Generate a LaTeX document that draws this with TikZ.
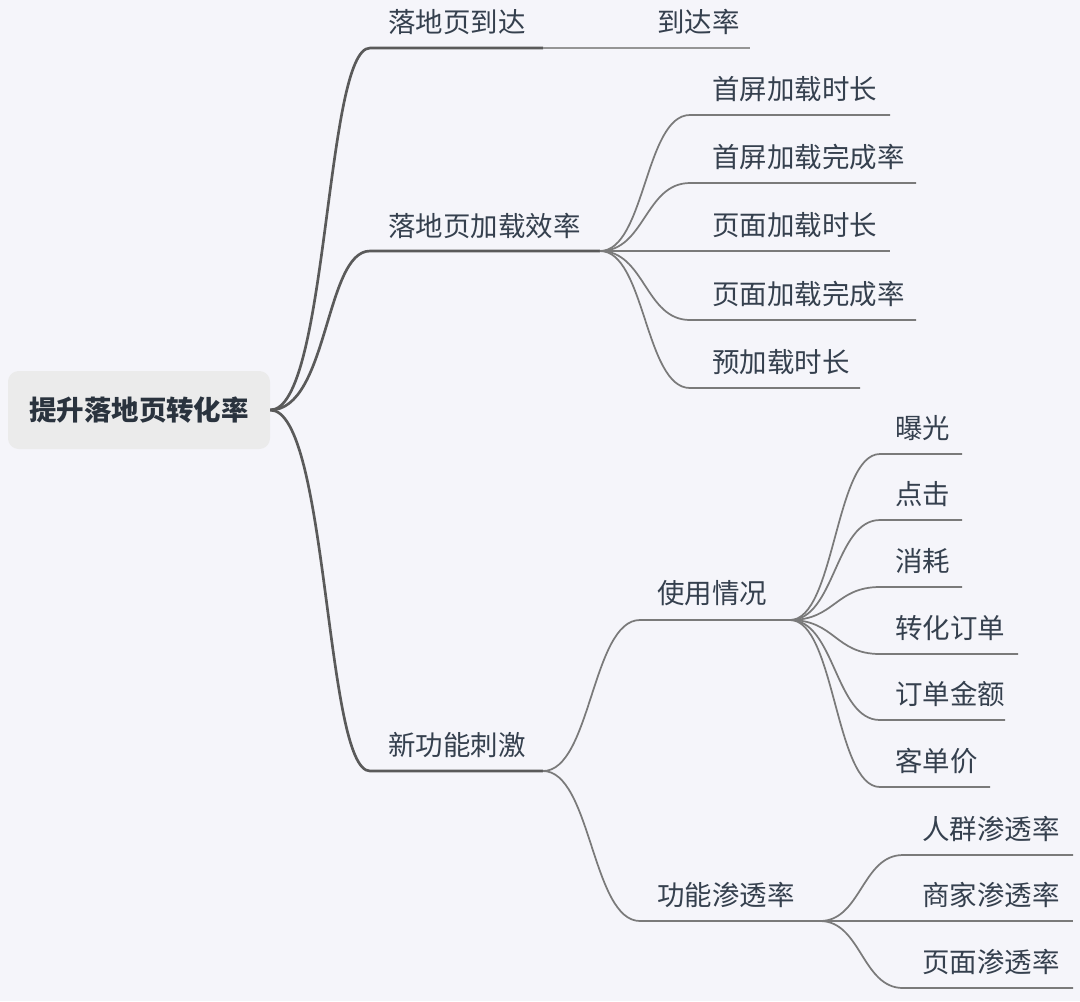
\documentclass[tikz,border=0pt]{standalone}
\usepackage{fontspec}
\setmainfont{Noto Sans CJK SC}
\definecolor{bgc}{HTML}{F5F5FA}
\definecolor{rootfill}{HTML}{EBEBEB}
\definecolor{txt}{HTML}{35404E}
\definecolor{mainline}{HTML}{5A5A5A}
\definecolor{subline}{HTML}{7A7A7A}
\tikzset{
  lbl/.style={anchor=west, inner sep=0pt, text=txt, font=\fontsize{20.6pt}{22pt}\selectfont},
  rootbox/.style={fill=rootfill, rounded corners=8pt, minimum width=196.5pt, minimum height=58.5pt, inner sep=0pt, text=txt!80!black, font=\fontsize{20.6pt}{22pt}\selectfont\bfseries},
  mainln/.style={draw=mainline, line width=2pt},
  subln/.style={draw=subline, line width=1.3pt},
  lightln/.style={draw=subline!80, line width=1.3pt}
}
\begin{document}
\begin{tikzpicture}[x=0.75pt,y=-0.75pt]
\fill[bgc] (0,0) rectangle (1080,1001);
\useasboundingbox (0,0) rectangle (1080,1001);

% root
\node[rootbox] (root) at (139,410) {提升落地页转化率};

% level 1
\coordinate (A-l) at (370,48);  \coordinate (A-r) at (543,48);
\node[lbl] (A) at (388,22) {落地页到达};
\coordinate (B-l) at (370,251); \coordinate (B-r) at (600,251);
\node[lbl] (B) at (388,226) {落地页加载效率};
\coordinate (C-l) at (370,771); \coordinate (C-r) at (543,771);
\node[lbl] (C) at (388,745) {新功能刺激};

\draw[mainln] (root.east) .. controls +(58,0) and +(-45,0) .. (A-l) -- (A-r);
\draw[mainln] (root.east) .. controls +(58,0) and +(-45,0) .. (B-l) -- (B-r);
\draw[mainln] (root.east) .. controls +(58,0) and +(-45,0) .. (C-l) -- (C-r);

% A child
\coordinate (A1-l) at (643,48); \coordinate (A1-r) at (750,48);
\node[lbl] (A1) at (657,22) {到达率};
\draw[lightln] (A-r) -- (A1-l) -- (A1-r);

% B children
\foreach \n/\y/\e/\t in {1/115/890/首屏加载时长, 2/183/916/首屏加载完成率, 3/251/890/页面加载时长, 4/320/916/页面加载完成率, 5/388/860/预加载时长}{
  \coordinate (B\n-l) at (690,\y); \coordinate (B\n-r) at (\e,\y);
  \node[lbl] (B\n) at (712,\y-26) {\t};
  \draw[subln] (B-r) .. controls +(45,0) and +(-45,0) .. (B\n-l) -- (B\n-r);
}

% C children
\coordinate (C1-l) at (640,620); \coordinate (C1-r) at (790,620);
\node[lbl] (C1) at (657,593) {使用情况};
\coordinate (C2-l) at (640,921); \coordinate (C2-r) at (820,921);
\node[lbl] (C2) at (657,895) {功能渗透率};
\draw[subln] (C-r) .. controls +(48,0) and +(-48,0) .. (C1-l) -- (C1-r);
\draw[subln] (C-r) .. controls +(48,0) and +(-48,0) .. (C2-l) -- (C2-r);

% C1 children
\foreach \n/\y/\e/\t in {1/454/962/曝光, 2/520/962/点击, 3/587/962/消耗, 4/654/1018/转化订单, 5/720/1005/订单金额, 6/787/990/客单价}{
  \coordinate (D\n-l) at (880,\y); \coordinate (D\n-r) at (\e,\y);
  \node[lbl] (D\n) at (895,\y-26) {\t};
  \draw[subln] (C1-r) .. controls +(45,0) and +(-45,0) .. (D\n-l) -- (D\n-r);
}

% C2 children
\foreach \n/\y/\t in {1/855/人群渗透率, 2/921/商家渗透率, 3/988/页面渗透率}{
  \coordinate (E\n-l) at (903,\y); \coordinate (E\n-r) at (1073,\y);
  \node[lbl] (E\n) at (922,\y-26) {\t};
  \draw[subln] (C2-r) .. controls +(41,0) and +(-41,0) .. (E\n-l) -- (E\n-r);
}
\end{tikzpicture}
\end{document}
